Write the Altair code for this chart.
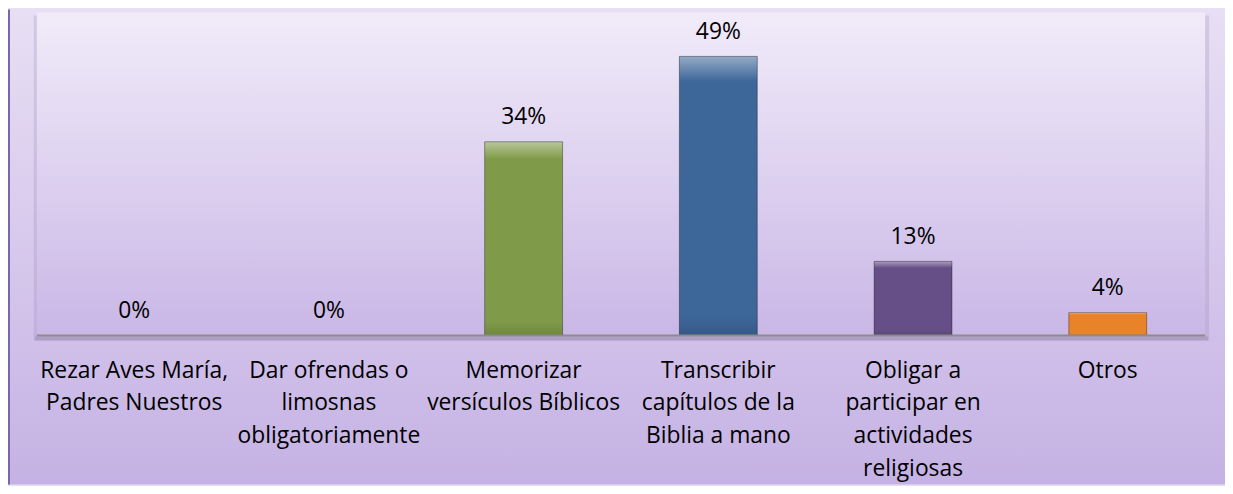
import altair as alt
import pandas as pd

categories = [
    "Rezar Aves María,|Padres Nuestros",
    "Dar ofrendas o|limosnas|obligatoriamente",
    "Memorizar|versículos Bíblicos",
    "Transcribir|capítulos de la|Biblia a mano",
    "Obligar a|participar en|actividades|religiosas",
    "Otros",
]
values = [0.0, 0.0, 0.34, 0.49, 0.13, 0.04]
labels = ["0%", "0%", "34%", "49%", "13%", "4%"]
bar_colors = ["#4F81BD", "#C0504D", "#7F9A48", "#3D6699", "#654F86", "#E8832A"]

W, H = 1176, 325
PL, PT, PR, PB = 29, 3, 20, 150

df = pd.DataFrame({"cat": categories, "val": values, "lab": labels})
one = pd.DataFrame({"k": [0]})

FONT = "Open Sans"
FS = 23

x_enc = alt.X(
    "cat:N",
    sort=categories,
    scale=alt.Scale(domain=categories, paddingInner=0.6, paddingOuter=0.3),
    axis=alt.Axis(
        title=None,
        domain=False,
        ticks=False,
        labelAngle=0,
        labelExpr="split(datum.label, '|')",
        labelFont=FONT,
        labelFontSize=FS,
        labelColor="#000000",
        labelPadding=24,
        labelLineHeight=33,
        labelBaseline="top",
        labelLimit=300,
        zindex=2,
    ),
)
y_scale = alt.Scale(domain=[0, 0.567], nice=False, zero=True)
y_enc = alt.Y("val:Q", scale=y_scale, axis=None)

outer_bg = alt.Chart(one).mark_rect(
    color=alt.LinearGradient(
        gradient="linear",
        stops=[
            alt.GradientStop(color="#E8DFF4", offset=0),
            alt.GradientStop(color="#C5B2E4", offset=1),
        ],
        x1=0, x2=0, y1=0, y2=1,
    )
).encode(
    x=alt.value(-PL), x2=alt.value(W + PR), y=alt.value(-PT), y2=alt.value(H + PB)
)

left_border = alt.Chart(one).mark_rule(color="#7B65A9", strokeWidth=2).encode(
    x=alt.value(-PL + 1), y=alt.value(-PT), y2=alt.value(H + PB)
)

shadow = alt.Chart(one).mark_rect(color="#8A7AA8", opacity=0.22).encode(
    x=alt.value(-3), x2=alt.value(W + 4), y=alt.value(3), y2=alt.value(H + 5)
)

plot_bg = alt.Chart(one).mark_rect(
    color=alt.LinearGradient(
        gradient="linear",
        stops=[
            alt.GradientStop(color="#F1EBF9", offset=0),
            alt.GradientStop(color="#C9B7E6", offset=1),
        ],
        x1=0, x2=0, y1=0, y2=1,
    )
).encode(x=alt.value(0), x2=alt.value(W), y=alt.value(0), y2=alt.value(H))

base = alt.Chart(df)

bars = base.transform_filter("datum.val > 0").mark_bar().encode(
    x=x_enc,
    y=y_enc,
    color=alt.Color("cat:N", scale=alt.Scale(domain=categories, range=bar_colors), legend=None),
)

bevel = base.transform_filter("datum.val > 0").mark_bar(
    color=alt.LinearGradient(
        gradient="linear",
        stops=[
            alt.GradientStop(color="rgba(255,255,255,0.45)", offset=0),
            alt.GradientStop(color="rgba(255,255,255,0.25)", offset=0.04),
            alt.GradientStop(color="rgba(255,255,255,0.0)", offset=0.09),
            alt.GradientStop(color="rgba(0,0,0,0.0)", offset=0.93),
            alt.GradientStop(color="rgba(0,0,0,0.12)", offset=1),
        ],
        x1=0, x2=0, y1=0, y2=1,
    ),
    stroke="rgba(0,0,0,0.35)",
    strokeWidth=1,
).encode(x=x_enc, y=y_enc)

baseline_shadow = alt.Chart(one).mark_rule(color="#9A8CB4", strokeWidth=4, opacity=0.5).encode(
    x=alt.value(-2), x2=alt.value(W + 3), y=alt.value(H + 3)
)
baseline = alt.Chart(one).mark_rule(color="#8C8C8C", strokeWidth=2).encode(
    x=alt.value(0), x2=alt.value(W), y=alt.value(H)
)

text = base.mark_text(
    font=FONT, fontSize=FS, color="#000000", baseline="alphabetic", dy=-18
).encode(x=x_enc, y=y_enc, text="lab:N")

chart = alt.layer(
    outer_bg, left_border, shadow, plot_bg, bars, bevel, baseline_shadow, baseline, text
).properties(
    width=W,
    height=H,
    autosize=alt.AutoSizeParams(type="none"),
    padding={"left": PL, "top": PT, "right": PR, "bottom": PB},
).configure_view(stroke=None).configure(background="#E8DFF4")

chart.save("out.html", embed_options={"renderer": "svg", "actions": False})
